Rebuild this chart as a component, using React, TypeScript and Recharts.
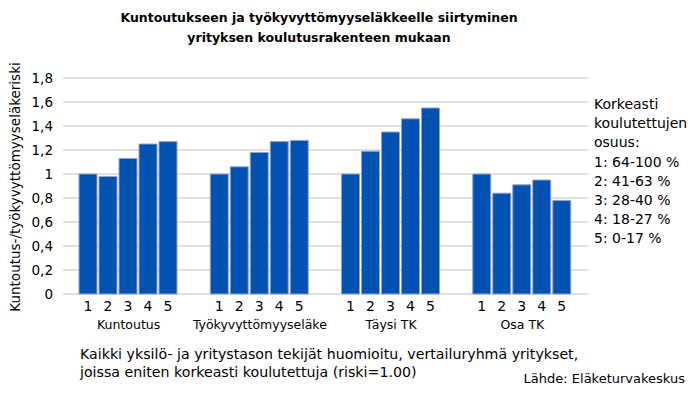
import { BarChart, Bar, XAxis, YAxis, CartesianGrid, LabelList } from "recharts";

const groups = ["Kuntoutus", "Työkyvyttömyyseläke", "Täysi TK", "Osa TK"];
const s1 = [1.0, 1.0, 1.0, 1.0];
const s2 = [0.98, 1.06, 1.19, 0.84];
const s3 = [1.13, 1.18, 1.35, 0.91];
const s4 = [1.25, 1.27, 1.46, 0.95];
const s5 = [1.27, 1.28, 1.55, 0.78];
const seriesNames = ["1", "2", "3", "4", "5"];
const yTicks = [0, 0.2, 0.4, 0.6, 0.8, 1, 1.2, 1.4, 1.6, 1.8];
const legendLines = [
  "Korkeasti",
  "koulutettujen",
  "osuus:",
  "1: 64-100 %",
  "2: 41-63 %",
  "3: 28-40 %",
  "4: 18-27 %",
  "5: 0-17 %",
];

const data = groups.map((g, i) => ({ name: g, s1: s1[i], s2: s2[i], s3: s3[i], s4: s4[i], s5: s5[i] }));

const font = "'DejaVu Sans', Verdana, sans-serif";
const barFill = "#0252B4";

const numLabel = (n: string) => (props: any) => {
  const { x, y, width, height } = props;
  return (
    <text x={x + width / 2} y={y + height + 17} textAnchor="middle" fontSize={14} fill="#000" fontFamily={font}>
      {n}
    </text>
  );
};

const CatTick = (props: any) => {
  const { x, y, payload } = props;
  return (
    <text x={x} y={y + 27} textAnchor="middle" fontSize={12.5} fill="#000" fontFamily={font}>
      {payload.value}
    </text>
  );
};

export default function App() {
  const keys = ["s1", "s2", "s3", "s4", "s5"];
  return (
    <div style={{ position: "absolute", left: 0, top: 0, width: 698, height: 395, background: "#fff", fontFamily: font }}>
      <div style={{ position: "absolute", left: 0, width: 638, top: 8, textAlign: "center", fontWeight: "bold", fontSize: 12.5, lineHeight: "20px" }}>
        Kuntoutukseen ja työkyvyttömyyseläkkeelle siirtyminen
        <br />
        yrityksen koulutusrakenteen mukaan
      </div>
      <BarChart width={698} height={395} data={data} margin={{ top: 78, right: 110, bottom: 71, left: 0 }} barCategoryGap={16} barGap={2}>
        <CartesianGrid vertical={false} stroke="#d4d4d4" strokeWidth={1.5} />
        <XAxis dataKey="name" axisLine={false} tickLine={false} tick={<CatTick />} interval={0} height={30} />
        <YAxis
          width={63}
          domain={[0, 1.8]}
          ticks={yTicks}
          interval={0}
          axisLine={false}
          tickLine={false}
          tickMargin={4}
          tick={{ fontSize: 13.5, fill: "#000", fontFamily: font }}
          tickFormatter={(v: number) => String(Math.round(v * 10) / 10).replace(".", ",")}
        />
        {keys.map((k, i) => (
          <Bar key={k} dataKey={k} fill={barFill} stroke="#9aa4b4" strokeWidth={1} isAnimationActive={false}>
            <LabelList dataKey={k} content={numLabel(seriesNames[i])} />
          </Bar>
        ))}
      </BarChart>
      <div
        style={{
          position: "absolute",
          left: 15,
          top: 187,
          transform: "translate(-50%, -50%) rotate(-90deg)",
          whiteSpace: "nowrap",
          fontSize: 13.5,
        }}
      >
        Kuntoutus-/työkyvyttömyyseläkeriski
      </div>
      <div style={{ position: "absolute", left: 594, top: 95, fontSize: 14, lineHeight: "19.2px", whiteSpace: "nowrap" }}>
        {legendLines.map((l) => (
          <div key={l}>{l}</div>
        ))}
      </div>
      <div style={{ position: "absolute", left: 80, top: 345, fontSize: 14.2, lineHeight: "18px", whiteSpace: "nowrap" }}>
        Kaikki yksilö- ja yritystason tekijät huomioitu, vertailuryhmä yritykset,
        <br />
        joissa eniten korkeasti koulutettuja (riski=1.00)
      </div>
      <div style={{ position: "absolute", right: 13, top: 371, fontSize: 13, whiteSpace: "nowrap" }}>
        Lähde: Eläketurvakeskus
      </div>
    </div>
  );
}
